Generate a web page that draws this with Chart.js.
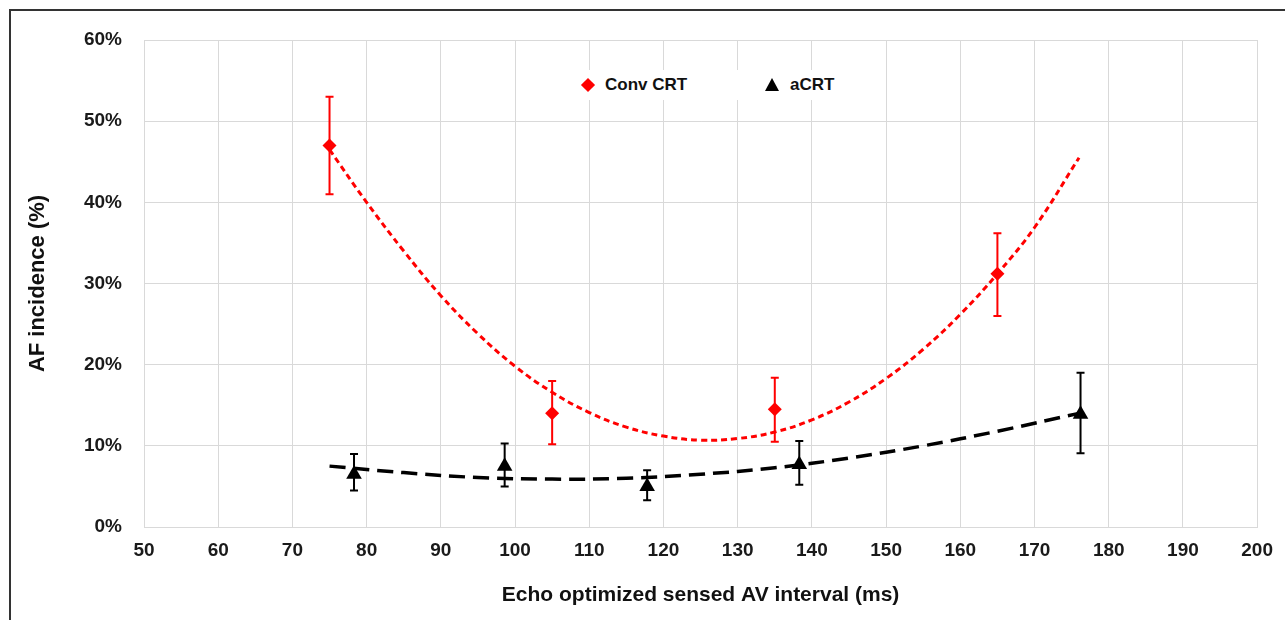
<!DOCTYPE html>
<html>
<head>
<meta charset="utf-8">
<script src="https://cdn.jsdelivr.net/npm/chart.js@4.4.0/dist/chart.umd.min.js"></script>
<style>
  body { margin: 0; background: #fff; }
  #wrap { position: relative; width: 1285px; height: 620px; overflow: hidden; }
  #frame { position: absolute; left: 9px; top: 9px; width: 1300px; height: 640px;
           border-top: 2px solid #333; border-left: 2px solid #333; pointer-events: none; }
  #legend { position: absolute; left: 566px; top: 70px; width: 296px; height: 30px;
            background: #fff; font: bold 17px "Liberation Sans", Arial, sans-serif; color: #111; }
  #legend .item { position: absolute; top: 5px; white-space: nowrap; }
  #legend .mark { position: absolute; }
</style>
</head>
<body>
<div id="wrap">
  <canvas id="myChart" width="1285" height="620"></canvas>
  <div id="frame"></div>
  <div id="legend"></div>
</div>
<script>
// measured points
const convX = [75, 105, 135, 165];
const convY = [47.0, 14.0, 14.5, 31.2];
const convLow = [41.0, 10.2, 10.5, 26.0];
const convHigh = [53.0, 18.0, 18.4, 36.2];

const acrtX = [78.3, 98.6, 117.8, 138.3, 176.2];
const acrtY = [6.5, 7.5, 5.0, 7.7, 13.9];
const acrtLow = [4.5, 5.0, 3.3, 5.2, 9.1];
const acrtHigh = [9.0, 10.3, 7.0, 10.6, 19.0];

// trend lines
const convTrendX = [75, 80, 85, 90, 95, 100, 105, 110, 115, 120, 125, 130, 135, 140, 145, 150, 155, 160, 165, 170, 176];
const convTrendY = [46.5, 40.0, 34.0, 28.5, 23.8, 19.8, 16.6, 14.1, 12.3, 11.2, 10.7, 10.9, 11.7, 13.2, 15.4, 18.3, 21.9, 26.2, 31.2, 36.9, 45.5];
const acrtTrendX = [75, 85, 95, 105, 115, 125, 135, 145, 155, 165, 176];
const acrtTrendY = [7.5, 6.7, 6.1, 5.9, 6.0, 6.5, 7.3, 8.5, 10.0, 11.8, 14.0];

const xTicks = [50, 200, 10];
const yTicks = [0, 60, 10];

const toPts = (xs, ys) => xs.map((x, i) => ({ x: x, y: ys[i] }));

let red = '#ff0000';
let black = '#000000';
const fontFam = '"Liberation Sans", Arial, sans-serif';

const errorBars = {
  id: 'errorBars',
  afterDatasetsDraw(chart) {
    const ctx = chart.ctx;
    const xs = chart.scales.x, ys = chart.scales.y;
    chart.data.datasets.forEach((ds, i) => {
      if (!ds.errLow || !chart.isDatasetVisible(i)) return;
      ctx.save();
      ctx.strokeStyle = ds.borderColor;
      ctx.lineWidth = 2;
      ds.data.forEach((p, j) => {
        const px = xs.getPixelForValue(p.x);
        const lo = ys.getPixelForValue(ds.errLow[j]);
        const hi = ys.getPixelForValue(ds.errHigh[j]);
        ctx.beginPath();
        ctx.moveTo(px, lo); ctx.lineTo(px, hi);
        ctx.moveTo(px - 4, lo); ctx.lineTo(px + 4, lo);
        ctx.moveTo(px - 4, hi); ctx.lineTo(px + 4, hi);
        ctx.stroke();
      });
      ctx.restore();
    });
  }
};

const data = {
  datasets: [{
    label: 'Conv CRT',
    type: 'scatter',
    data: toPts(convX, convY),
    errLow: convLow,
    errHigh: convHigh,
    pointStyle: 'rectRot',
    pointRadius: 7,
    backgroundColor: red,
    borderColor: red,
    borderWidth: 0,
  }, {
    label: 'aCRT',
    type: 'scatter',
    data: toPts(acrtX, acrtY),
    errLow: acrtLow,
    errHigh: acrtHigh,
    pointStyle: 'triangle',
    pointRadius: 9,
    backgroundColor: black,
    borderColor: black,
    borderWidth: 0,
  }, {
    label: 'trend conv',
    type: 'line',
    data: toPts(convTrendX, convTrendY),
    borderColor: red,
    borderWidth: 3,
    borderDash: [6, 4],
    pointRadius: 0,
    tension: 0.4,
    fill: false,
  }, {
    label: 'trend acrt',
    type: 'line',
    data: toPts(acrtTrendX, acrtTrendY),
    borderColor: black,
    borderWidth: 3.5,
    borderDash: [16, 8],
    pointRadius: 0,
    tension: 0.4,
    fill: false,
  }]
};

const config = {
  type: 'scatter',
  data: data,
  plugins: [errorBars],
  options: {
    responsive: false,
    animation: false,
    layout: { padding: { left: 0, top: 40, right: 27, bottom: 0 } },
    scales: {
      x: {
        type: 'linear',
        min: xTicks[0],
        max: xTicks[1],
        afterFit: (s) => { s.height = 93; },
        ticks: {
          stepSize: xTicks[2],
          padding: 12,
          color: '#1a1a1a',
          font: { family: fontFam, size: 19, weight: 'bold' },
        },
        grid: { color: '#d9d9d9', drawTicks: false },
        border: { color: '#d9d9d9' },
        title: {
          display: true,
          text: 'Echo optimized sensed AV interval (ms)',
          color: '#111',
          padding: { top: 0, bottom: 12 },
          font: { family: fontFam, size: 21, weight: 'bold' },
        },
      },
      y: {
        min: yTicks[0],
        max: yTicks[1],
        afterFit: (s) => { s.width = 144; },
        ticks: {
          stepSize: yTicks[2],
          padding: 22,
          color: '#1a1a1a',
          font: { family: fontFam, size: 19, weight: 'bold' },
          callback: (v) => v + '%',
        },
        grid: { color: '#d9d9d9', drawTicks: false },
        border: { color: '#d9d9d9' },
        title: {
          display: true,
          text: 'AF incidence (%)',
          color: '#111',
          padding: { top: 25, bottom: 0 },
          font: { family: fontFam, size: 22, weight: 'bold' },
        },
      },
    },
    plugins: {
      legend: { display: false },
      tooltip: { enabled: false },
    },
  }
};

const myChart = new Chart(document.getElementById('myChart'), config);

// html legend inside the plot, from the two marker datasets
const legendBox = document.getElementById('legend');
const legendPos = [{ mark: 22, text: 39 }, { mark: 206, text: 224 }];
[0, 1].forEach((k) => {
  const ds = data.datasets[k];
  const m = document.createElement('div');
  m.className = 'mark';
  if (ds.pointStyle === 'rectRot') {
    m.style.cssText = 'left:' + (legendPos[k].mark - 5) + 'px;top:10px;width:10px;height:10px;transform:rotate(45deg);background:' + ds.backgroundColor;
  } else {
    m.style.cssText = 'left:' + (legendPos[k].mark - 7) + 'px;top:8px;width:0;height:0;border-left:7px solid transparent;border-right:7px solid transparent;border-bottom:13px solid ' + ds.backgroundColor;
  }
  legendBox.appendChild(m);
  const t = document.createElement('div');
  t.className = 'item';
  t.style.left = legendPos[k].text + 'px';
  t.textContent = ds.label;
  legendBox.appendChild(t);
});
</script>
</body>
</html>
